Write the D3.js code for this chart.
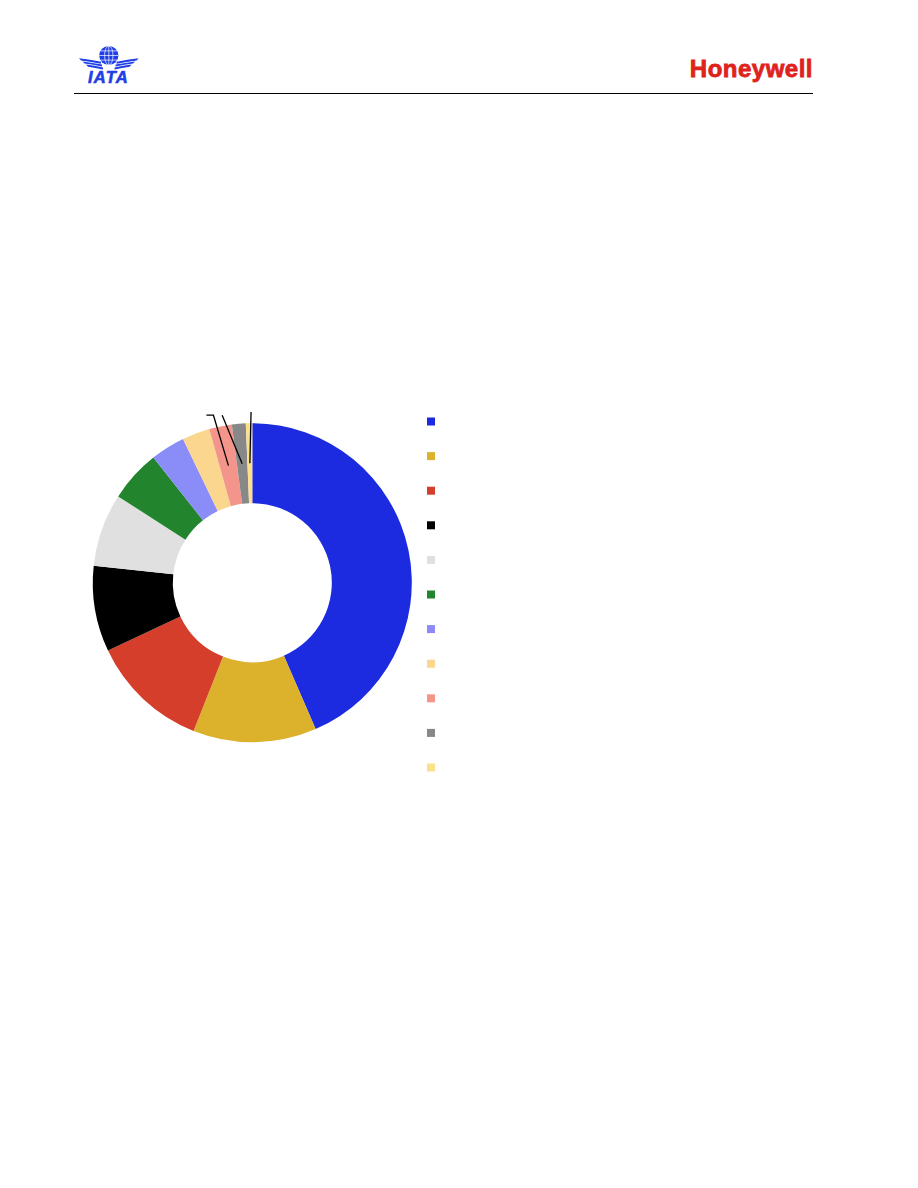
<!DOCTYPE html>
<html>
<head>
<meta charset="utf-8">
<script src="https://cdn.jsdelivr.net/npm/d3@7"></script>
<style>
  html, body { margin: 0; padding: 0; background: #fff; }
  svg { display: block; }
</style>
</head>
<body>
<svg id="chart" width="918" height="1188"></svg>
<script>
// ---- data ----
const categories = ["s1","s2","s3","s4","s5","s6","s7","s8","s9","s10","s11"];
const values = [43.5, 12.5, 12.0, 8.7, 7.4, 5.25, 3.5, 2.8, 2.3, 1.4, 0.65];
const colors = ["#1c2be0","#dcb12c","#d43e2a","#000000","#e0e0e0","#22852e",
                "#8a8cf8","#fbd68e","#f4958b","#888888","#fde08c"];
const legendLabels = ["","","","","","","","","","",""];
const leaderSlices = [8, 9, 10];

const svg = d3.select("#chart");

// ---- header ----
const hdr = svg.append("g");
hdr.append("line").attr("x1", 74).attr("x2", 813).attr("y1", 93.5).attr("y2", 93.5)
  .attr("stroke", "#000").attr("stroke-width", 1);
hdr.append("text").attr("x", 813).attr("y", 76.5).attr("text-anchor", "end")
  .attr("font-family", "Liberation Sans, Arial, sans-serif").attr("font-weight", "bold")
  .attr("font-size", 24).attr("letter-spacing", 0.5)
  .attr("stroke", "#e0221c").attr("stroke-width", 0.8)
  .attr("fill", "#e0221c").text("Honeywell");

// IATA logo
const logo = hdr.append("g");
const blue = "#1f3ee6";
const gx = 108.8, gy = 55.5, gr = 9.6;
logo.append("circle").attr("cx", gx).attr("cy", gy).attr("r", gr).attr("fill", blue);
const gl = logo.append("g").attr("stroke", "#fff").attr("stroke-width", 0.7).attr("fill", "none");
gl.append("ellipse").attr("cx", gx).attr("cy", gy).attr("rx", 4.2).attr("ry", gr);
gl.append("line").attr("x1", gx).attr("x2", gx).attr("y1", gy - gr).attr("y2", gy + gr);
gl.append("line").attr("x1", gx - gr).attr("x2", gx + gr).attr("y1", gy).attr("y2", gy);
gl.append("line").attr("x1", gx - 8.3).attr("x2", gx + 8.3).attr("y1", gy - 4.6).attr("y2", gy - 4.6);
gl.append("line").attr("x1", gx - 8.3).attr("x2", gx + 8.3).attr("y1", gy + 4.6).attr("y2", gy + 4.6);
// wings: three swept stripes each side
const stripes = [[79, 58.2, 101, 61.8], [82.5, 61.4, 102, 64.6], [86, 64.6, 103, 67.4]];
stripes.forEach(([xo, yo, xi, yi]) => {
  [1, -1].forEach(side => {
    const m = x => side === 1 ? x : 2 * gx - x;
    logo.append("path").attr("fill", blue)
      .attr("d", `M${m(xo)},${yo} Q${m((xo + xi) / 2)},${yo + 1.2} ${m(xi)},${yi} L${m(xi)},${yi + 2} Q${m((xo + xi) / 2 + 1)},${yo + 3.4} ${m(xo + 2)},${yo + 2.2} Z`);
  });
});
logo.append("text").attr("x", 108.5).attr("y", 82.7).attr("text-anchor", "middle")
  .attr("font-family", "Liberation Sans, Arial, sans-serif").attr("font-weight", "bold")
  .attr("font-style", "italic").attr("font-size", 16.5).attr("letter-spacing", 1.2)
  .attr("stroke", blue).attr("stroke-width", 0.6)
  .attr("fill", blue).text("IATA");

// ---- donut ----
const cx = 252.3, cy = 582.7, R = 159.5, r0 = 79.5;
const pie = d3.pie().sort(null).value(d => d)(values);
const arc = d3.arc().innerRadius(r0).outerRadius(R);
const g = svg.append("g").attr("transform", `translate(${cx},${cy})`);
g.selectAll("path.slice").data(pie).join("path").attr("class", "slice")
  .attr("d", arc).attr("fill", (d, i) => colors[i]);

// leader lines from the small slices' centroids
const topY = -R - 8;
const leaderShapes = {8: {dx: -15, elbow: -7}, 9: {dx: -20, elbow: 0}, 10: {dx: 1.2, elbow: 0}};
leaderSlices.forEach(i => {
  const [x0, y0] = arc.centroid(pie[i]);
  const s = leaderShapes[i];
  const y1 = i === 10 ? topY - 3.3 : topY;
  const pts = [[x0, y0], [x0 + s.dx, y1]];
  if (s.elbow) pts.push([x0 + s.dx + s.elbow, y1]);
  g.append("path").attr("d", d3.line()(pts)).attr("fill", "none")
    .attr("stroke", "#000").attr("stroke-width", 1.3);
});

// ---- legend ----
const legY = d3.scalePoint().domain(categories).range([421.5, 767.5]);
const leg = svg.append("g");
leg.selectAll("rect").data(categories).join("rect")
  .attr("x", 427).attr("y", d => legY(d) - 4).attr("width", 8).attr("height", 8)
  .attr("fill", (d, i) => colors[i]);
leg.selectAll("text").data(categories).join("text")
  .attr("x", 442).attr("y", d => legY(d) + 4)
  .attr("font-family", "Liberation Sans, Arial, sans-serif").attr("font-size", 11)
  .text((d, i) => legendLabels[i]);
</script>
</body>
</html>
